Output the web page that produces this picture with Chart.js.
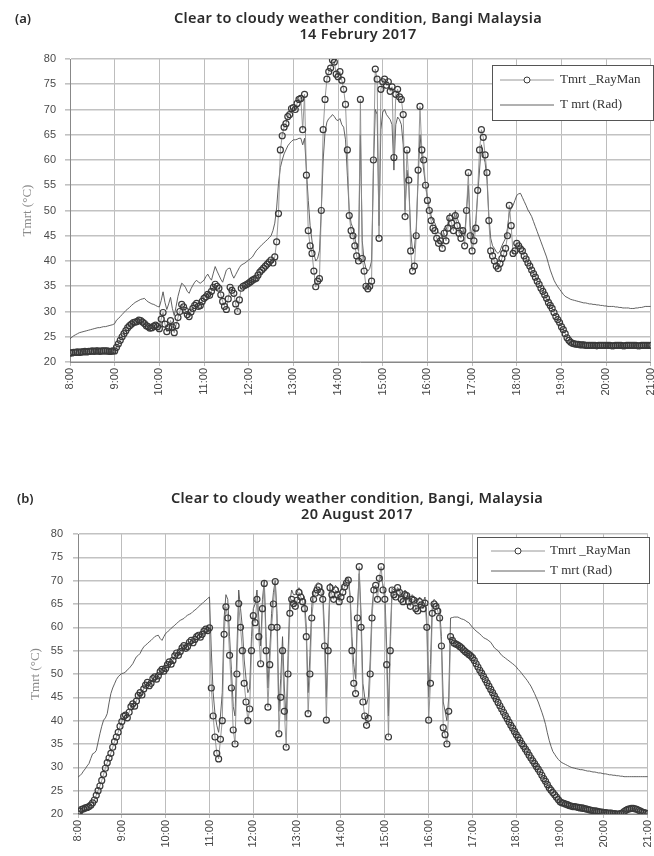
<!DOCTYPE html>
<html>
<head>
<meta charset="utf-8">
<script src="https://cdn.jsdelivr.net/npm/chart.js@4.4.1/dist/chart.umd.min.js"></script>
<style>
  html, body { margin: 0; padding: 0; background: #fff; width: 654px; height: 856px; overflow: hidden; }
  .panel { position: absolute; left: 0; }
  #pa { top: 0; width: 666px; height: 420px; }
  #pb { top: 430px; width: 663px; height: 426px; }
</style>
</head>
<body>
<div class="panel" id="pa"><canvas id="chartA"></canvas></div>
<div class="panel" id="pb"><canvas id="chartB"></canvas></div>
<script>
// reading times, 2.5 min apart, same for both days
const times = [
  '8:00','8:02:30','8:05','8:07:30','8:10','8:12:30','8:15','8:17:30','8:20','8:22:30','8:25','8:27:30',
  '8:30','8:32:30','8:35','8:37:30','8:40','8:42:30','8:45','8:47:30','8:50','8:52:30','8:55','8:57:30',
  '9:00','9:02:30','9:05','9:07:30','9:10','9:12:30','9:15','9:17:30','9:20','9:22:30','9:25','9:27:30',
  '9:30','9:32:30','9:35','9:37:30','9:40','9:42:30','9:45','9:47:30','9:50','9:52:30','9:55','9:57:30',
  '10:00','10:02:30','10:05','10:07:30','10:10','10:12:30','10:15','10:17:30','10:20','10:22:30','10:25','10:27:30',
  '10:30','10:32:30','10:35','10:37:30','10:40','10:42:30','10:45','10:47:30','10:50','10:52:30','10:55','10:57:30',
  '11:00','11:02:30','11:05','11:07:30','11:10','11:12:30','11:15','11:17:30','11:20','11:22:30','11:25','11:27:30',
  '11:30','11:32:30','11:35','11:37:30','11:40','11:42:30','11:45','11:47:30','11:50','11:52:30','11:55','11:57:30',
  '12:00','12:02:30','12:05','12:07:30','12:10','12:12:30','12:15','12:17:30','12:20','12:22:30','12:25','12:27:30',
  '12:30','12:32:30','12:35','12:37:30','12:40','12:42:30','12:45','12:47:30','12:50','12:52:30','12:55','12:57:30',
  '13:00','13:02:30','13:05','13:07:30','13:10','13:12:30','13:15','13:17:30','13:20','13:22:30','13:25','13:27:30',
  '13:30','13:32:30','13:35','13:37:30','13:40','13:42:30','13:45','13:47:30','13:50','13:52:30','13:55','13:57:30',
  '14:00','14:02:30','14:05','14:07:30','14:10','14:12:30','14:15','14:17:30','14:20','14:22:30','14:25','14:27:30',
  '14:30','14:32:30','14:35','14:37:30','14:40','14:42:30','14:45','14:47:30','14:50','14:52:30','14:55','14:57:30',
  '15:00','15:02:30','15:05','15:07:30','15:10','15:12:30','15:15','15:17:30','15:20','15:22:30','15:25','15:27:30',
  '15:30','15:32:30','15:35','15:37:30','15:40','15:42:30','15:45','15:47:30','15:50','15:52:30','15:55','15:57:30',
  '16:00','16:02:30','16:05','16:07:30','16:10','16:12:30','16:15','16:17:30','16:20','16:22:30','16:25','16:27:30',
  '16:30','16:32:30','16:35','16:37:30','16:40','16:42:30','16:45','16:47:30','16:50','16:52:30','16:55','16:57:30',
  '17:00','17:02:30','17:05','17:07:30','17:10','17:12:30','17:15','17:17:30','17:20','17:22:30','17:25','17:27:30',
  '17:30','17:32:30','17:35','17:37:30','17:40','17:42:30','17:45','17:47:30','17:50','17:52:30','17:55','17:57:30',
  '18:00','18:02:30','18:05','18:07:30','18:10','18:12:30','18:15','18:17:30','18:20','18:22:30','18:25','18:27:30',
  '18:30','18:32:30','18:35','18:37:30','18:40','18:42:30','18:45','18:47:30','18:50','18:52:30','18:55','18:57:30',
  '19:00','19:02:30','19:05','19:07:30','19:10','19:12:30','19:15','19:17:30','19:20','19:22:30','19:25','19:27:30',
  '19:30','19:32:30','19:35','19:37:30','19:40','19:42:30','19:45','19:47:30','19:50','19:52:30','19:55','19:57:30',
  '20:00','20:02:30','20:05','20:07:30','20:10','20:12:30','20:15','20:17:30','20:20','20:22:30','20:25','20:27:30',
  '20:30','20:32:30','20:35','20:37:30','20:40','20:42:30','20:45','20:47:30','20:50','20:52:30','20:55','20:57:30',
  '21:00'
];

const hourLabels = ['8:00','9:00','10:00','11:00','12:00','13:00','14:00','15:00','16:00','17:00','18:00','19:00','20:00','21:00'];

// (a) 14 Feb 2017
const rayA = [
  21.8, 21.8, 21.9, 21.9, 22.0, 21.9, 22.0, 22.0, 22.1, 22.0, 22.1, 22.1,
  22.2, 22.1, 22.2, 22.2, 22.1, 22.2, 22.2, 22.2, 22.2, 22.1, 22.1, 22.2,
  22.2, 22.9, 23.6, 24.3, 25.0, 25.6, 26.2, 26.8, 27.2, 27.5, 27.8, 27.9,
  28.0, 28.3, 28.2, 27.9, 27.6, 27.2, 27.0, 26.7, 26.8, 27.1, 27.3, 27.0,
  26.6, 28.5, 29.8, 27.5, 26.0, 26.8, 28.2, 26.9, 25.8, 27.2, 28.8, 30.0,
  31.4, 30.9, 30.2, 29.4, 29.0, 29.9, 30.6, 31.2, 31.6, 31.0, 31.2, 32.0,
  32.6, 32.9, 33.4, 33.2, 34.0, 34.8, 35.4, 35.0, 34.6, 33.3, 32.0, 31.0,
  30.4, 32.5, 34.8, 34.2, 33.6, 31.5, 30.0, 32.3, 34.6, 35.0, 35.2, 35.4,
  35.6, 35.9, 36.2, 36.4, 36.6, 37.2, 37.8, 38.2, 38.6, 39.0, 39.4, 39.8,
  40.2, 39.6, 40.8, 43.8, 49.4, 62.0, 64.8, 66.5, 67.2, 68.6, 69.0, 70.2,
  70.4, 70.0, 71.2, 72.0, 72.2, 66.0, 73.0, 57.0, 46.0, 43.0, 41.5, 38.0,
  34.9, 36.0, 36.5, 50.0, 66.0, 72.0, 76.0, 77.5, 78.2, 79.8, 79.4, 77.0,
  76.5, 77.5, 75.8, 74.0, 71.0, 62.0, 49.0, 46.0, 45.0, 43.0, 41.0, 40.0,
  72.0, 40.5, 38.0, 35.0, 34.5, 35.0, 36.0, 60.0, 78.0, 76.0, 44.5, 74.0,
  75.5, 76.0, 74.8, 75.5, 73.6, 74.5, 60.5, 73.0, 74.0, 72.5, 72.0, 69.0,
  48.8, 62.0, 56.0, 42.0, 38.0, 39.0, 45.0, 58.0, 70.6, 62.0, 60.0, 55.0,
  52.0, 50.0, 48.0, 46.5, 46.0, 44.5, 43.5, 44.0, 42.5, 45.5, 44.0, 46.5,
  48.5, 47.5, 46.0, 49.0, 47.0, 45.5, 44.5, 46.0, 43.0, 50.0, 57.5, 45.0,
  42.0, 44.0, 46.5, 54.0, 62.0, 66.0, 64.5, 61.0, 57.5, 48.0, 42.0, 41.0,
  40.0, 39.0, 38.5, 39.5, 40.5, 41.5, 42.5, 45.0, 51.0, 47.0, 41.5, 42.0,
  43.5, 43.0, 42.4, 42.0, 41.0, 40.4, 39.6, 39.0, 38.2, 37.5, 36.8, 36.0,
  35.4, 34.6, 34.0, 33.3, 32.6, 31.8, 31.2, 30.6, 29.8, 29.0, 28.4, 27.8,
  27.0, 26.4, 25.6, 24.8, 24.3, 23.9, 23.7, 23.6, 23.5, 23.5, 23.4, 23.4,
  23.4, 23.3, 23.3, 23.3, 23.3, 23.3, 23.3, 23.2, 23.3, 23.3, 23.3, 23.3,
  23.3, 23.3, 23.3, 23.2, 23.2, 23.3, 23.3, 23.3, 23.3, 23.2, 23.2, 23.3,
  23.3, 23.3, 23.3, 23.3, 23.3, 23.2, 23.2, 23.3, 23.3, 23.3, 23.3, 23.3,
  23.3
];
const radA = [
  24.6, 24.9, 25.2, 25.4, 25.6, 25.8, 25.9, 26.0, 26.1, 26.2, 26.3, 26.4,
  26.5, 26.6, 26.7, 26.8, 26.8, 26.9, 27.0, 27.0, 27.1, 27.2, 27.3, 27.4,
  27.6, 28.3, 28.6, 29.0, 29.4, 29.8, 30.2, 30.5, 30.8, 31.2, 31.5, 31.8,
  32.0, 32.2, 32.4, 32.5, 32.6, 32.2, 31.9, 31.7, 31.5, 31.4, 31.2, 31.0,
  30.9, 32.2, 33.9, 31.8, 30.4, 31.5, 32.8, 30.6, 29.2, 31.0, 33.0, 34.4,
  35.6, 35.3, 34.8, 34.0, 33.6, 34.5, 35.2, 35.8, 36.2, 35.8, 35.6, 35.9,
  36.2, 36.9, 37.4, 36.7, 36.2, 37.6, 38.9, 38.0, 37.2, 36.4, 35.8, 37.0,
  38.2, 38.5, 38.6, 37.4, 36.6, 37.3, 38.0, 38.7, 39.2, 39.4, 39.6, 39.9,
  40.2, 40.5, 40.8, 41.4, 42.0, 42.4, 42.8, 43.2, 43.5, 43.9, 44.2, 44.6,
  45.0, 46.0, 47.5, 50.5, 55.4, 58.5, 60.0, 61.2, 62.0, 62.8, 63.3, 63.7,
  64.0, 64.0, 64.1, 64.3, 64.3, 63.0, 64.3, 58.0, 52.0, 47.0, 44.0, 41.5,
  40.0, 40.5, 42.0, 50.0, 60.0, 65.5, 67.5, 68.2, 68.5, 69.0, 68.6, 68.0,
  67.8, 68.2, 67.0, 66.5, 64.0, 57.0, 50.0, 47.5, 46.5, 44.5, 43.0, 42.0,
  65.0, 44.0, 40.0, 38.5, 38.0, 38.5, 40.0, 58.0, 70.0, 69.0, 47.0, 66.0,
  69.5, 70.0, 69.0, 68.5, 68.0, 67.0, 58.0, 67.0, 68.5, 68.0, 67.0, 63.0,
  50.0, 58.0, 55.0, 46.0, 42.0, 42.5, 46.5, 56.0, 65.0, 61.0, 58.0, 55.0,
  52.5, 50.5, 49.0, 48.0, 47.5, 46.5, 45.5, 45.5, 44.5, 46.5, 46.0, 47.5,
  49.5, 49.0, 48.0, 50.0, 48.5, 47.5, 46.5, 46.5, 45.0, 50.0, 55.0, 47.0,
  44.5, 45.5, 48.0, 53.0, 58.0, 63.0, 61.0, 59.5, 56.0, 49.0, 44.5, 43.0,
  42.5, 41.8, 41.5, 42.0, 43.0, 43.8, 44.5, 46.5, 49.5, 50.5, 51.0, 52.0,
  53.0, 53.3, 53.4, 52.6, 51.8, 51.0, 50.1, 49.5, 48.8, 47.8, 46.8, 45.8,
  44.8, 43.8, 42.8, 41.8, 40.8, 39.5, 38.2, 37.2, 36.2, 35.5, 34.9, 34.4,
  33.9, 33.4, 33.0, 32.8, 32.6, 32.4, 32.3, 32.2, 32.1, 32.0, 31.9, 31.8,
  31.7, 31.7, 31.6, 31.5, 31.5, 31.4, 31.4, 31.3, 31.3, 31.2, 31.2, 31.1,
  31.1, 31.0, 31.0, 31.0, 31.0, 30.9, 30.9, 30.8, 30.8, 30.7, 30.7, 30.7,
  30.7, 30.6, 30.6, 30.6, 30.7, 30.7, 30.8, 30.8, 30.9, 31.0, 31.0, 31.0,
  31.0
];

// (b) 20 Aug 2017
const rayB = [
  20.0, 20.6, 21.0, 21.1, 21.3, 21.4, 21.6, 21.9, 22.4, 23.0, 24.0, 25.0,
  26.0, 27.2, 28.5, 29.8, 31.0, 32.0, 33.0, 34.3, 35.5, 36.5, 37.5, 38.8,
  39.8, 40.9, 41.2, 40.6, 41.8, 43.0, 43.6, 43.1, 44.2, 45.4, 46.0, 45.5,
  46.8, 47.6, 48.2, 47.5, 48.0, 49.0, 49.4, 48.9, 49.6, 50.5, 51.0, 50.6,
  51.2, 52.0, 52.6, 52.1, 52.9, 53.9, 54.5, 54.0, 54.8, 55.6, 56.1, 55.5,
  55.9, 56.8, 57.2, 56.7, 57.4, 58.0, 58.3, 57.9, 58.5, 59.2, 59.6, 59.3,
  59.9, 47.0, 41.0, 36.5, 33.0, 31.8, 36.0, 40.0, 58.5, 64.4, 62.0, 54.0,
  47.0, 38.0, 35.0, 50.0, 65.1, 60.0, 55.0, 48.0, 44.0, 40.0, 42.5, 55.0,
  62.5, 61.0, 66.0, 58.0, 52.2, 64.0, 69.4, 55.0, 42.9, 52.0, 60.0, 65.0,
  69.8, 60.0, 37.2, 45.0, 55.0, 42.0, 34.3, 50.0, 63.0, 66.0, 65.1, 64.5,
  65.8, 67.5, 66.5, 65.5, 64.0, 58.0, 41.5, 50.0, 62.0, 66.0, 67.3, 68.0,
  68.7, 67.5, 66.0, 56.0, 40.1, 55.0, 68.5, 67.0, 66.0, 68.0, 67.0, 65.5,
  66.5, 67.5, 68.7, 69.5, 70.1, 66.0, 55.0, 48.0, 45.8, 62.0, 73.0, 60.0,
  44.0, 41.0, 39.0, 40.5, 50.0, 62.0, 68.0, 69.0, 66.0, 70.5, 73.0, 68.0,
  66.0, 52.0, 36.5, 55.0, 68.0, 67.0, 66.5, 68.5, 67.5, 66.0, 65.5, 67.0,
  66.8, 65.5, 64.5, 66.0, 65.8, 64.0, 63.5, 65.5, 64.8, 64.0, 65.2, 60.0,
  40.1, 48.0, 63.0, 65.0, 64.5, 63.5, 62.0, 56.0, 38.5, 37.0, 35.0, 42.0,
  58.0, 57.2, 56.6, 56.4, 56.2, 55.9, 55.6, 55.2, 54.8, 54.5, 54.2, 53.9,
  53.5, 52.9, 52.2, 51.5, 50.8, 50.2, 49.5, 48.8, 48.1, 47.4, 46.7, 46.0,
  45.3, 44.6, 43.9, 43.2, 42.5, 41.8, 41.1, 40.4, 39.7, 39.0, 38.4, 37.7,
  37.0, 36.4, 35.8, 35.1, 34.5, 33.9, 33.3, 32.6, 32.0, 31.4, 30.8, 30.2,
  29.6, 29.0, 28.3, 27.6, 27.0, 26.3, 25.6, 25.1, 24.6, 24.1, 23.6, 23.1,
  22.6, 22.4, 22.3, 22.1, 22.0, 21.8, 21.7, 21.6, 21.6, 21.5, 21.4, 21.3,
  21.3, 21.2, 21.1, 21.0, 20.9, 20.8, 20.7, 20.7, 20.6, 20.5, 20.4, 20.4,
  20.3, 20.3, 20.2, 20.2, 20.2, 20.1, 20.1, 20.0, 20.0, 20.1, 20.2, 20.5,
  20.8, 21.0, 21.1, 21.2, 21.2, 21.1, 21.0, 20.8, 20.6, 20.4, 20.3, 20.2,
  20.1
];
const radB = [
  27.9, 28.2, 28.6, 29.2, 29.7, 30.3, 30.8, 31.9, 32.9, 33.1, 33.6, 35.4,
  37.2, 38.8, 40.1, 40.6, 41.5, 43.8, 45.8, 47.0, 47.9, 48.8, 49.4, 49.8,
  50.1, 50.2, 50.4, 50.9, 51.2, 51.7, 52.2, 53.0, 53.7, 54.0, 54.4, 55.2,
  55.8, 56.2, 56.5, 56.9, 57.2, 57.6, 58.0, 58.2, 58.3, 57.6, 57.2, 58.0,
  58.7, 59.0, 59.4, 59.8, 60.1, 60.5, 60.8, 61.2, 61.5, 61.7, 61.9, 62.3,
  62.6, 62.8, 63.0, 63.4, 63.7, 64.0, 64.4, 64.8, 65.1, 65.5, 65.8, 66.2,
  66.5, 55.0, 46.0, 41.5, 39.0, 37.5, 41.0, 46.0, 62.0, 67.0, 66.0, 58.0,
  51.0, 43.0, 41.0, 55.0, 68.0, 64.0, 60.0, 53.0, 49.0, 46.0, 47.0, 58.0,
  64.0, 65.0, 68.0, 62.0, 56.0, 66.0, 70.0, 58.0, 47.0, 55.0, 63.0, 67.5,
  70.0, 63.0, 42.0, 49.0, 58.0, 47.0, 40.0, 54.0, 65.5, 68.0, 67.0, 67.0,
  67.5, 68.5, 68.0, 67.0, 66.5, 60.0, 46.0, 54.0, 64.5, 68.0, 69.0, 69.5,
  69.5, 69.0, 68.0, 59.0, 45.0, 58.0, 69.5, 69.0, 68.0, 69.0, 68.5, 67.5,
  68.0, 69.0, 69.5, 70.5, 70.5, 67.0, 58.0, 52.0, 49.0, 64.0, 71.5, 63.0,
  48.0, 45.0, 43.5, 45.0, 53.0, 64.0, 68.5, 69.0, 67.5, 70.0, 71.0, 69.0,
  67.5, 56.0, 41.0, 58.0, 68.5, 68.0, 67.5, 68.5, 68.0, 67.0, 66.5, 68.0,
  67.5, 66.5, 66.0, 67.0, 66.5, 65.5, 65.5, 66.5, 66.0, 65.5, 66.5, 62.0,
  45.0, 52.0, 65.0, 66.0, 65.5, 64.5, 64.0, 58.0, 44.0, 42.0, 40.0, 45.0,
  62.0, 62.1, 62.2, 62.2, 62.2, 62.0, 61.8, 61.7, 61.5, 61.2, 61.0, 60.5,
  60.0, 59.6, 59.2, 58.9, 58.6, 58.2, 57.8, 57.6, 57.4, 57.1, 56.8, 56.2,
  55.6, 55.3, 55.0, 54.5, 54.0, 53.7, 53.4, 53.1, 52.8, 52.5, 52.2, 51.9,
  51.5, 51.0, 50.6, 50.1, 49.6, 49.1, 48.6, 48.0, 47.4, 46.6, 45.8, 44.9,
  44.0, 42.9, 41.8, 40.6, 39.2, 37.4, 35.8, 34.5, 33.4, 32.8, 32.2, 31.7,
  31.3, 31.0, 30.8, 30.6, 30.4, 30.2, 30.0, 29.9, 29.8, 29.7, 29.6, 29.5,
  29.5, 29.4, 29.3, 29.2, 29.2, 29.1, 29.0, 29.0, 28.9, 28.8, 28.8, 28.7,
  28.6, 28.6, 28.5, 28.4, 28.4, 28.3, 28.3, 28.2, 28.2, 28.1, 28.1, 28.0,
  28.0, 28.0, 28.0, 28.0, 28.0, 28.0, 28.0, 28.0, 28.0, 28.0, 28.0, 28.0,
  28.0
];

const seriesNames = ['Tmrt _RayMan', 'T mrt (Rad)'];

function toHours(s) {
  const p = s.split(':').map(Number);
  return p[0] + p[1] / 60 + (p[2] || 0) / 3600;
}

function points(vals) {
  if (times.length !== vals.length) console.warn('length mismatch', times.length, vals.length);
  return times.map((t, i) => ({ x: toHours(t), y: vals[i] }));
}

// title block above the plot: "(a)" tag + two centred lines
const panelTitle = {
  id: 'panelTitle',
  afterDraw(chart, args, o) {
    const ctx = chart.ctx;
    ctx.save();
    ctx.fillStyle = '#2b2b2b';
    ctx.textBaseline = 'middle';
    ctx.font = '600 13px "Noto Sans", sans-serif';
    ctx.textAlign = 'left';
    ctx.fillText(o.tag, o.tagX, o.y1);
    ctx.font = '600 14.5px "Noto Sans", sans-serif';
    ctx.letterSpacing = '0.3px';
    ctx.textAlign = 'center';
    ctx.fillText(o.lines[0], o.cx, o.y1);
    ctx.fillText(o.lines[1], o.cx, o.y2);
    ctx.restore();
  }
};

// framed legend sitting inside the plot, top right
const boxLegend = {
  id: 'boxLegend',
  afterDatasetsDraw(chart, args, o) {
    const ctx = chart.ctx;
    ctx.save();
    ctx.fillStyle = '#fff';
    ctx.fillRect(o.x, o.y, o.w, o.h);
    ctx.strokeStyle = '#555';
    ctx.lineWidth = 1;
    ctx.strokeRect(o.x + 0.5, o.y + 0.5, o.w, o.h);
    ctx.font = '13px "Liberation Serif", serif';
    ctx.textBaseline = 'middle';
    ctx.textAlign = 'left';
    chart.data.datasets.forEach((ds, i) => {
      const y = o.y + o.rows[i];
      ctx.strokeStyle = ds.borderColor;
      ctx.lineWidth = ds.borderWidth;
      ctx.beginPath();
      ctx.moveTo(o.x + o.lx0, y);
      ctx.lineTo(o.x + o.lx1, y);
      ctx.stroke();
      if (ds.pointRadius > 0) {
        ctx.beginPath();
        ctx.arc(o.x + (o.lx0 + o.lx1) / 2, y, ds.pointRadius, 0, Math.PI * 2);
        ctx.fillStyle = '#fff';
        ctx.fill();
        ctx.strokeStyle = ds.pointBorderColor;
        ctx.lineWidth = 1;
        ctx.stroke();
      }
      ctx.fillStyle = '#333';
      ctx.fillText(ds.label, o.x + o.tx, y);
    });
    ctx.restore();
  }
};

function makeChart(id, ray, rad, cfg) {
  return new Chart(document.getElementById(id), {
    type: 'scatter',
    data: {
      datasets: [
        {
          label: seriesNames[0],
          data: points(ray),
          showLine: true,
          borderColor: '#8c8c8c',
          borderWidth: 0.9,
          pointRadius: 3,
          pointBorderWidth: 1.2,
          pointBorderColor: '#3a3a3a',
          pointBackgroundColor: 'rgba(255,255,255,0)'
        },
        {
          label: seriesNames[1],
          data: points(rad),
          showLine: true,
          borderColor: '#505050',
          borderWidth: 0.9,
          pointRadius: 0
        }
      ]
    },
    options: {
      responsive: true,
      maintainAspectRatio: false,
      animation: false,
      devicePixelRatio: 1,
      layout: { padding: { top: cfg.top, left: 0, right: 0, bottom: 0 } },
      plugins: {
        legend: { display: false },
        tooltip: { enabled: false },
        panelTitle: cfg.title,
        boxLegend: cfg.legend
      },
      scales: {
        x: {
          type: 'linear',
          min: 8,
          max: 21,
          afterFit(s) { s.height = cfg.xh; },
          ticks: {
            stepSize: 1,
            autoSkip: false,
            minRotation: 90,
            maxRotation: 90,
            padding: 2,
            color: '#444',
            font: { family: '"Liberation Sans", sans-serif', size: 11 },
            callback: v => hourLabels[Math.round(v) - 8]
          },
          grid: { color: '#bdbdbd', lineWidth: 1, tickLength: 4 },
          border: { color: '#888', width: 1 }
        },
        y: {
          min: 20,
          max: 80,
          afterFit(s) { s.width = cfg.yw; },
          ticks: {
            stepSize: 5,
            padding: cfg.ytp,
            color: '#4a4a4a',
            font: { family: '"Liberation Sans", sans-serif', size: 11 }
          },
          grid: { color: '#c2c2c2', lineWidth: 1.6, tickLength: 5 },
          border: { color: '#888', width: 1 },
          title: {
            display: true,
            text: 'Tmrt (°C)',
            color: '#8a8a8a',
            font: { family: '"Liberation Serif", serif', size: 13 },
            padding: { top: cfg.ttp, bottom: 0 }
          }
        }
      }
    },
    plugins: [panelTitle, boxLegend]
  });
}

makeChart('chartA', rayA, radA, {
  top: 59, xh: 58, yw: 70, ytp: 9, ttp: 20,
  title: { tag: '(a)', tagX: 15, cx: 358, y1: 19,
           y2: 35, lines: ['Clear to cloudy weather condition, Bangi Malaysia', '14 Februry 2017'] },
  legend: { x: 492, y: 65, w: 161, h: 55, rows: [15, 40], lx0: 8, lx1: 62, tx: 68 }
});

makeChart('chartB', rayB, radB, {
  top: 104, xh: 42, yw: 78, ytp: 10, ttp: 28,
  title: { tag: '(b)', tagX: 17, cx: 357, y1: 69,
           y2: 85, lines: ['Clear to cloudy weather condition, Bangi, Malaysia', '20 August 2017'] },
  legend: { x: 477, y: 107, w: 172, h: 46, rows: [14, 34], lx0: 14, lx1: 68, tx: 73 }
});
</script>
</body>
</html>
